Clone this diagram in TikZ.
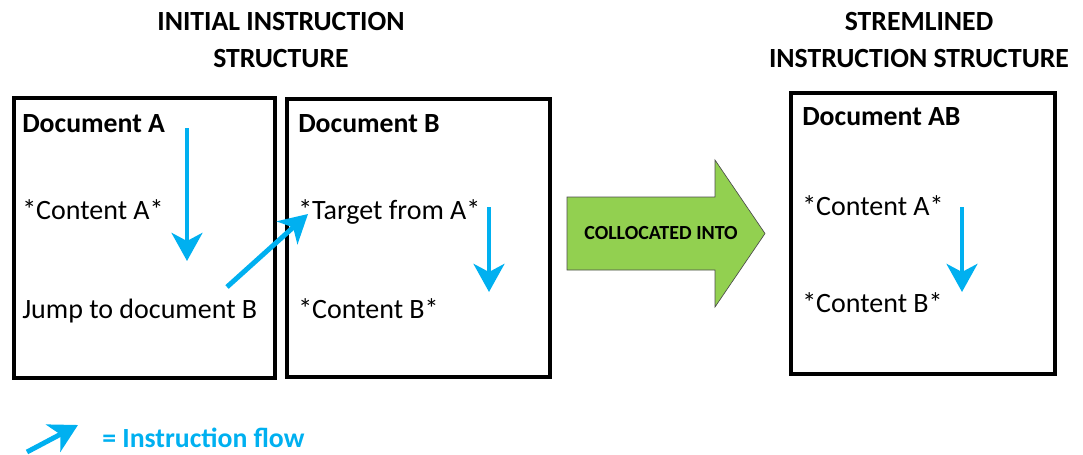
\documentclass[tikz,border=0pt]{standalone}
\usepackage{fontspec}
\setmainfont{Carlito}
\usetikzlibrary{arrows.meta}
\definecolor{flowblue}{HTML}{00B0F0}
\definecolor{intogreen}{HTML}{92D050}
\tikzset{
  docbox/.style={draw,line width=2.6pt,minimum width=#1*0.75pt,inner sep=0pt},
  txt/.style={anchor=base west,inner sep=0pt,font=\fontsize{21}{24}\selectfont},
  head/.style={anchor=base west,inner sep=0pt,font=\bfseries\fontsize{20.8}{24}\selectfont},
  title/.style={anchor=base,inner sep=0pt,font=\bfseries\fontsize{20.8}{24}\selectfont},
  flow/.style={draw=flowblue,line width=3.7pt,-{Stealth[length=21pt,width=23pt,inset=6pt]}}
}
\begin{document}
\begin{tikzpicture}[x=0.75pt,y=-0.75pt]
   \useasboundingbox (0,0) rectangle (1083,454);
   % titles
   \node[title] (t1) at (281,30) {INITIAL INSTRUCTION};
   \node[title] (t2) at (281,67) {STRUCTURE};
   \node[title] (t3) at (919,30) {STREMLINED};
   \node[title] (t4) at (919,67) {INSTRUCTION STRUCTURE};
   % documents
   \node[docbox=261,minimum height=210pt] (docA) at (144.5,238) {};
   \node[docbox=263,minimum height=208.5pt] (docB) at (418.5,238) {};
   \node[docbox=264,minimum height=210.75pt] (docAB) at (923,233.5) {};
   \node[head] (hA) at (22,132) {Document A};
   \node[txt] (cA) at (22,219) {*Content A*};
   \node[txt] (jump) at (22,318) {Jump to document B};
   \node[head] (hB) at (298,132) {Document B};
   \node[txt] (target) at (298,219) {*Target from A*};
   \node[txt] (cB) at (298,318) {*Content B*};
   \node[head] (hAB) at (802,125) {Document AB};
   \node[txt] (cA2) at (802,215) {*Content A*};
   \node[txt] (cB2) at (802,312) {*Content B*};
   % flow
   \coordinate (a1) at (187,128); \coordinate (a2) at (187,261);
   \coordinate (j1) at (227,287); \coordinate (j2) at (308,214);
   \coordinate (b1) at (489,207); \coordinate (b2) at (489,292);
   \coordinate (ab1) at (962,207); \coordinate (ab2) at (962,292);
   \draw[flow] (a1) -- (a2);
   \draw[flow] (j1) -- (j2);
   \draw[flow] (b1) -- (b2);
   \draw[flow] (ab1) -- (ab2);
   % big arrow
   \draw[fill=intogreen,draw=black!70,line width=0.5pt] (567,197) -- (715,197) -- (715,160)
     -- (765,233.5) -- (715,307) -- (715,270) -- (567,270) -- cycle;
   \node[inner sep=0pt,font=\bfseries\fontsize{15}{17}\selectfont] (into) at (661,233.5) {COLLOCATED INTO};
   % legend
   \coordinate (l1) at (27,452); \coordinate (l2) at (78,425);
   \draw[flow] (l1) -- (l2);
   \node[anchor=base west,inner sep=0pt,text=flowblue,font=\bfseries\fontsize{20.8}{24}\selectfont] (legend) at (102,447) {= Instruction flow};
\end{tikzpicture}
\end{document}
